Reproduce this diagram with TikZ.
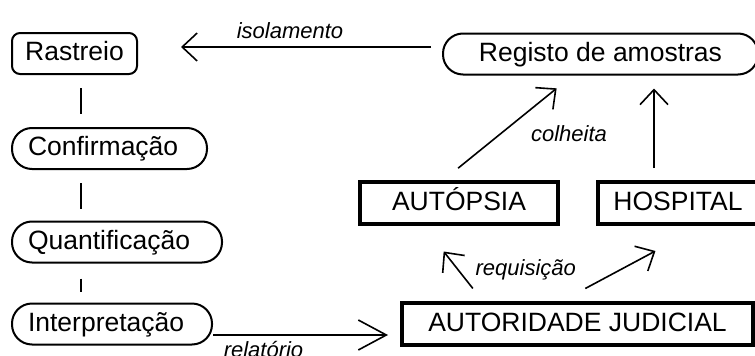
\documentclass[tikz,border=0pt]{standalone}
\usepackage{fontspec}
\setmainfont{Liberation Sans}
\usetikzlibrary{arrows.meta,positioning}

\begin{document}
\begin{tikzpicture}[x=1pt, y=-1pt,
    tag/.style={draw, line width=2pt, rounded corners=8pt, minimum height=41pt, inner sep=0pt, text height=19pt, text depth=5pt, font=\fontsize{26.5}{30}\selectfont},
    pill/.style={draw, line width=2pt, rounded corners=20pt, minimum height=41pt, inner sep=0pt, text height=19pt, text depth=5pt, align=left, font=\fontsize{26.5}{30}\selectfont},
    block/.style={draw, line width=4pt, minimum height=42pt, inner sep=0pt, text height=19pt, text depth=5pt, font=\fontsize{26.5}{30}\selectfont},
    link/.style={line width=1.6pt},
    arrow/.style={link, -{Straight Barb[length=15pt, width=28pt]}},
    longarrow/.style={link, -{Straight Barb[length=28pt, width=30pt]}},
    lbl/.style={inner sep=0pt, font=\itshape\fontsize{22}{26}\selectfont}]
    \useasboundingbox (0,0) rectangle (755,356);

    % analysis chain
    \node[tag, minimum width=125pt] (rastreio) at (74.5,53.5) {Rastreio};
    \node[pill, inner xsep=16pt, text width=163pt] (confirmacao) at (109.5,148.5) {Confirmação};
    \node[pill, inner xsep=16pt, text width=178pt] (quantificacao) at (117,242) {Quantificação};
    \node[pill, inner xsep=16pt, text width=168pt] (interpretacao) at (112,324) {Interpretação};

    % samples side
    \node[pill, minimum width=315pt] (registo) at (600.5,54) {Registo de amostras};
    \node[block, minimum width=198pt] (autopsia) at (459,203) {AUTÓPSIA};
    \node[block, minimum width=160pt] (hospital) at (678,203) {HOSPITAL};
    \node[block, minimum width=351pt] (autoridade) at (577.5,324) {AUTORIDADE JUDICIAL};

    \draw[link, shorten <=13pt, shorten >=13pt] ([xshift=6.5pt]rastreio.south) -- ([xshift=6.5pt]rastreio.south |- confirmacao.north);
    \draw[link, shorten <=13pt, shorten >=12pt] ([xshift=-28.5pt]confirmacao.south) -- ([xshift=-28.5pt]confirmacao.south |- quantificacao.north);
    \draw[link, shorten <=15pt, shorten >=11pt] ([xshift=-36pt]quantificacao.south) -- ([xshift=-36pt]quantificacao.south |- interpretacao.north);

    \draw[arrow, shorten <=11pt, shorten >=43pt] ([yshift=7pt]registo.west) -- ([yshift=7pt]registo.west -| rastreio.east)
        node[lbl, pos=0.5, above=7pt] {isolamento};
    \draw[longarrow, shorten >=12pt] ([yshift=-11pt]interpretacao.east) -- ([yshift=-11pt]interpretacao.east -| autoridade.west)
        node[lbl, pos=0.27, below=5pt] {relatório};

    \draw[arrow, shorten <=18.8pt, shorten >=20.4pt] ([xshift=-15.5pt]autopsia.north) -- ([xshift=-28pt]registo.south)
        node[lbl, pos=0.44, right=30pt] {colheita};
    \draw[arrow, shorten <=12pt, shorten >=13pt] ([xshift=-24pt]hospital.north) -- ([xshift=-24pt]hospital.north |- registo.south);

    \draw[arrow, shorten <=16pt, shorten >=32.5pt] ([xshift=-94.75pt]autoridade.north) -- ([xshift=-35.5pt]autopsia.south)
        node[lbl, pos=0.42, right=17pt] {requisição};
    \draw[arrow, shorten <=26.5pt, shorten >=53pt] ([xshift=-15.6pt]autoridade.north) -- ([xshift=24.2pt]hospital.south);
\end{tikzpicture}
\end{document}
